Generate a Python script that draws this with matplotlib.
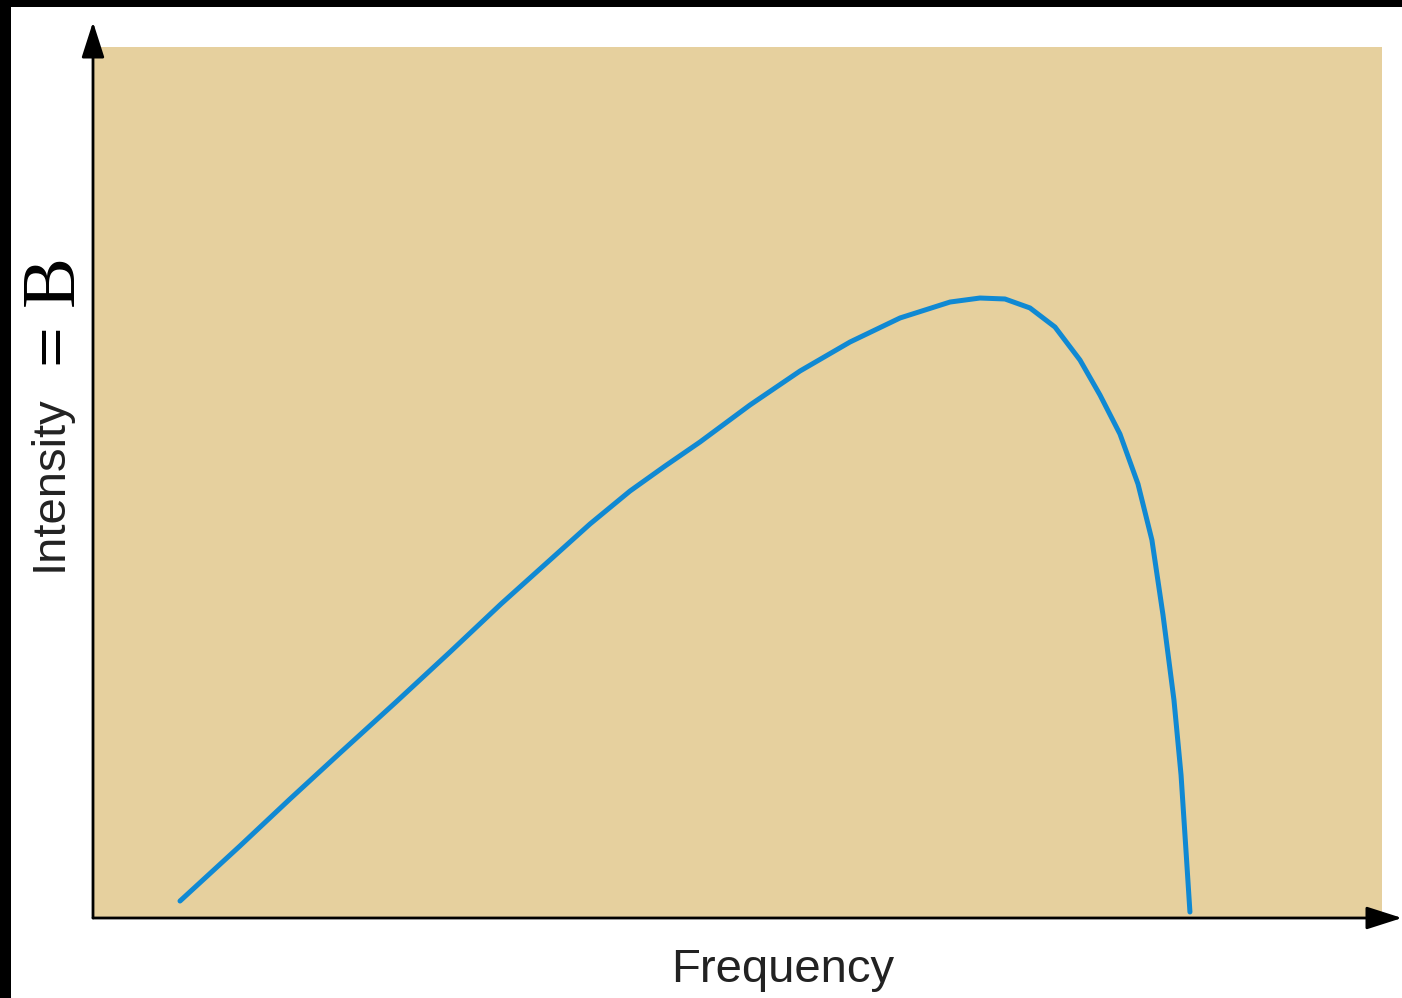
import matplotlib
matplotlib.use("Agg")
from matplotlib import pyplot as plt
from matplotlib.patches import Rectangle

# curve (arbitrary units, axes run 0..10)
freq = [0.675, 1.140, 1.528, 1.916, 2.351, 2.770, 3.165, 3.545, 3.856, 4.166,
        4.438, 4.709, 5.097, 5.485, 5.873, 6.261, 6.649, 6.881, 7.075, 7.269,
        7.463, 7.657, 7.812, 7.967, 8.107, 8.215, 8.301, 8.386, 8.441, 8.479,
        8.510]
intensity = [0.195, 0.827, 1.366, 1.894, 2.480, 3.054, 3.605, 4.110, 4.524, 4.902,
             5.189, 5.465, 5.890, 6.280, 6.613, 6.889, 7.072, 7.118, 7.107, 7.004,
             6.785, 6.406, 6.005, 5.557, 4.983, 4.340, 3.479, 2.503, 1.642, 0.781,
             0.069]

W, H = 1402, 998
fig = plt.figure(figsize=(W / 100, H / 100), dpi=100)
fig.patch.set_facecolor('white')

# axes box in pixels: left 93, right 1382, top 47, bottom 918
ax = fig.add_axes([93 / W, (H - 918) / H, (1382 - 93) / W, (918 - 47) / H])
ax.set_facecolor('#E6D09E')
ax.set_xlim(0, 10)
ax.set_ylim(0, 10)
ax.set_xticks([])
ax.set_yticks([])
for s in ax.spines.values():
    s.set_visible(False)

ax.plot(freq, intensity, color='#1089D3', lw=3.6, solid_capstyle='round',
        solid_joinstyle='round')

# axis arrows
arr = dict(arrowstyle='-|>,head_length=1.0,head_width=0.32', mutation_scale=22,
           lw=2, color='black', shrinkA=0, shrinkB=0)
ax.annotate('', xy=(0, (918 - 22) / 871), xytext=(0, 0), xycoords='axes fraction',
            arrowprops=arr, annotation_clip=False)
ax.annotate('', xy=((1402 - 93) / 1289, 0), xytext=(0, 0), xycoords='axes fraction',
            arrowprops=arr, annotation_clip=False)

# labels
sans = ['Liberation Sans', 'DejaVu Sans']
serif = ['Liberation Serif', 'DejaVu Serif']
fig.text(783 / W, 1 - 970 / H, 'Frequency', family=sans, fontsize=34,
         ha='center', va='center', color='#222222')
fig.text(50 / W, 1 - 483 / H, 'Intensity', family=sans, fontsize=34,
         rotation=90, ha='center', va='center', color='#222222')
fig.text(55 / W, 1 - 344 / H, '=', family=serif, fontsize=52,
         rotation=90, ha='center', va='center', color='black')
fig.text(54 / W, 1 - 281 / H, 'B', family=serif, fontsize=55,
         rotation=90, ha='center', va='center', color='black')

# black frame strips at top and left
fig.add_artist(Rectangle((0, 1 - 7 / H), 1, 7 / H, transform=fig.transFigure,
                         color='black', lw=0))
fig.add_artist(Rectangle((0, 0), 11 / W, 1, transform=fig.transFigure,
                         color='black', lw=0))

fig.savefig('out.png', dpi=100, facecolor=fig.get_facecolor())
